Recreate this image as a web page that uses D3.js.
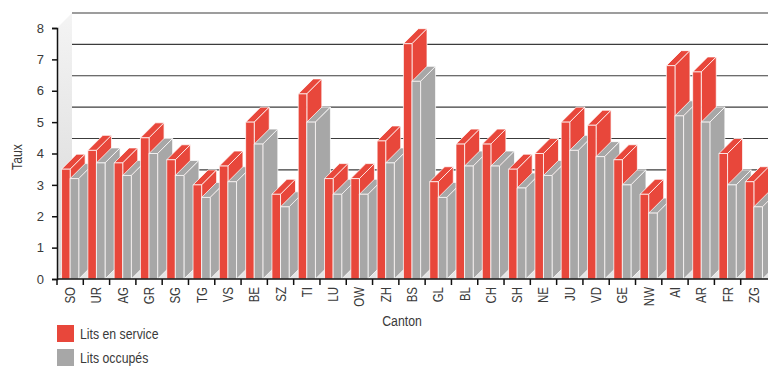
<!DOCTYPE html>
<html>
<head>
<meta charset="utf-8">
<script src="https://cdn.jsdelivr.net/npm/d3@7/dist/d3.min.js"></script>
<style>
  html, body { margin: 0; padding: 0; background: #fff; }
  svg { display: block; }
  text { font-family: "Liberation Sans", Arial, sans-serif; fill: #3a3a3a; }
</style>
</head>
<body>
<svg id="chart" width="768" height="367"></svg>
<script>
// Cantons along the x axis
const cantons = ["SO","UR","AG","GR","SG","TG","VS","BE","SZ","TI","LU","OW","ZH","BS","GL","BL","CH","SH","NE","JU","VD","GE","NW","AI","AR","FR","ZG"];
// Rate of beds in service per canton
const litsEnService = [3.5,4.1,3.7,4.5,3.8,3.0,3.6,5.0,2.7,5.9,3.2,3.2,4.4,7.5,3.1,4.3,4.3,3.5,4.0,5.0,4.9,3.8,2.7,6.8,6.6,4.0,3.1];
// Rate of occupied beds per canton
const litsOccupes = [3.2,3.7,3.3,4.0,3.3,2.6,3.1,4.3,2.3,5.0,2.7,2.7,3.7,6.3,2.6,3.6,3.6,2.9,3.3,4.1,3.9,3.0,2.1,5.2,5.0,3.0,2.3];
const seriesNames = ["Lits en service", "Lits occupés"];
const seriesColors = ["#e8473b", "#a7a7a7"];
const yTicks = [0,1,2,3,4,5,6,7,8];

const svg = d3.select("#chart");
const plotLeft = 57, plotRight = 767, plotTop = 28, plotBottom = 279;
const D = 15;        // 3D depth offset
const NARROW = 0.82; // horizontal squeeze for a condensed look

const x = d3.scaleBand().domain(cantons).range([plotLeft, plotRight]);
const xs = d3.scaleBand().domain(seriesNames).range([0, x.bandwidth()]).paddingOuter(0.53);
const y = d3.scaleLinear().domain([0, 8]).range([plotBottom, plotTop]);

const defs = svg.append("defs");
const wallGrad = defs.append("linearGradient").attr("id", "wall").attr("x1", 0).attr("y1", 0).attr("x2", 0).attr("y2", 1);
wallGrad.append("stop").attr("offset", "0%").attr("stop-color", "#f4f4f4");
wallGrad.append("stop").attr("offset", "100%").attr("stop-color", "#d6d6d6");

// Left side wall
svg.append("path")
  .attr("d", `M${plotLeft},${y(0)}L${plotLeft},${y(8)}L${plotLeft + D},${y(8) - D}L${plotLeft + D},${y(0) - D}Z`)
  .attr("fill", "url(#wall)");

// Floor
svg.append("path")
  .attr("d", `M${plotLeft},${y(0)}L${plotRight + D + 20},${y(0)}L${plotRight + D + 20},${y(0) - D}L${plotLeft + D},${y(0) - D}Z`)
  .attr("fill", "#e4e4e4");

// Back-wall gridlines
svg.append("g").selectAll("line").data(yTicks.filter(d => d > 0)).join("line")
  .attr("x1", plotLeft + D).attr("x2", 800)
  .attr("y1", d => y(d) - D).attr("y2", d => y(d) - D)
  .attr("stroke", "#3c3c3c").attr("stroke-width", 1.2);

// 3D bars, drawn left to right so each bar hides the side of the one before it
const bars = [];
cantons.forEach((c, i) => {
  [litsEnService[i], litsOccupes[i]].forEach((v, s) => {
    bars.push({ c, v, s });
  });
});

const barG = svg.append("g");
bars.forEach(b => {
  const x0 = x(b.c) + xs(seriesNames[b.s]);
  const w = xs.bandwidth();
  const yT = y(b.v), y0 = y(0);
  const g = barG.append("g")
    .attr("fill", seriesColors[b.s])
    .attr("stroke", "#ffffff").attr("stroke-opacity", 0.75)
    .attr("stroke-width", 1).attr("stroke-linejoin", "round");
  g.append("path").attr("d", `M${x0},${yT}L${x0 + w},${yT}L${x0 + w + D},${yT - D}L${x0 + D},${yT - D}Z`);
  g.append("path").attr("d", `M${x0 + w},${yT}L${x0 + w + D},${yT - D}L${x0 + w + D},${y0 - D}L${x0 + w},${y0}Z`);
  g.append("rect").attr("x", x0).attr("y", yT).attr("width", w).attr("height", y0 - yT);
});

// Y axis
const yAxis = svg.append("g").attr("transform", `translate(${plotLeft},0)`)
  .call(d3.axisLeft(y).tickValues(yTicks).tickSize(5).tickPadding(8).tickFormat(d3.format("d")));
yAxis.select(".domain").attr("stroke", "#111").attr("stroke-width", 1.5);
yAxis.selectAll(".tick line").attr("stroke", "#111").attr("stroke-width", 1.5);
yAxis.selectAll(".tick text")
  .style("font-size", "13px").attr("fill", "#3a3a3a");

// X axis with tick marks at band boundaries
const xAxisG = svg.append("g");
xAxisG.append("line").attr("x1", plotLeft).attr("x2", 768).attr("y1", plotBottom).attr("y2", plotBottom)
  .attr("stroke", "#111").attr("stroke-width", 1.5);
xAxisG.selectAll(".xt").data(cantons).join("line").attr("class", "xt")
  .attr("x1", d => x(d)).attr("x2", d => x(d))
  .attr("y1", plotBottom).attr("y2", plotBottom + 6)
  .attr("stroke", "#111").attr("stroke-width", 1.5);
xAxisG.selectAll(".xl").data(cantons).join("text").attr("class", "xl")
  .attr("transform", d => `translate(${x(d) + x.bandwidth() / 2 + 5},${plotBottom + 8}) rotate(-90) scale(${NARROW},1)`)
  .attr("text-anchor", "end")
  .style("font-size", "14px")
  .text(d => d);

// Axis titles
svg.append("text")
  .attr("transform", `translate(22,157) rotate(-90) scale(${NARROW},1)`)
  .attr("text-anchor", "middle").style("font-size", "15px").text("Taux");
svg.append("text")
  .attr("transform", `translate(402,326) scale(${NARROW},1)`)
  .attr("text-anchor", "middle").style("font-size", "15px").text("Canton");

// Legend
const legend = svg.append("g");
seriesNames.forEach((name, i) => {
  legend.append("rect").attr("x", 57).attr("y", 325 + i * 24).attr("width", 17).attr("height", 17)
    .attr("fill", seriesColors[i]);
  legend.append("text").attr("transform", `translate(80,${339 + i * 24}) scale(${NARROW},1)`)
    .style("font-size", "15px").text(name);
});
</script>
</body>
</html>
